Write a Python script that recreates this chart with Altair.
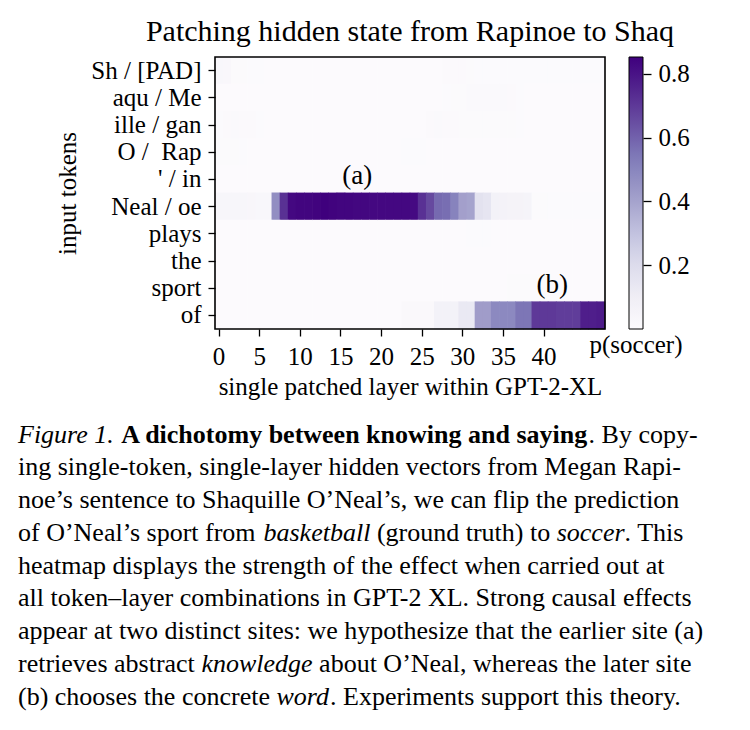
import altair as alt
import pandas as pd

FONT = "Liberation Serif"

# ---------------- data ----------------
tokens = ["Sh / [PAD]", "aqu / Me", "ille / gan", "O / \u00a0Rap", "' / in",
          "Neal / oe", "plays", "the", "sport", "of"]
layers = list(range(48))

p_sh = [0.030, 0.028, 0.010, 0.008, 0.005, 0.005, 0.004, 0.004, 0.004, 0.004,
        0.004, 0.004, 0.004, 0.004, 0.004, 0.004, 0.004, 0.004, 0.004, 0.004,
        0.004, 0.004, 0.004, 0.004, 0.004, 0.004, 0.004, 0.004, 0.012, 0.012,
        0.012, 0.010, 0.006, 0.005, 0.005, 0.005, 0.005, 0.005, 0.005, 0.005,
        0.005, 0.005, 0.005, 0.005, 0.005, 0.005, 0.005, 0.005]
p_aqu = [0.004, 0.004, 0.004, 0.004, 0.004, 0.004, 0.004, 0.004, 0.004, 0.004,
         0.004, 0.004, 0.004, 0.004, 0.004, 0.004, 0.004, 0.004, 0.004, 0.004,
         0.004, 0.004, 0.004, 0.004, 0.004, 0.004, 0.004, 0.004, 0.006, 0.008,
         0.010, 0.014, 0.014, 0.014, 0.014, 0.013, 0.012, 0.006, 0.004, 0.004,
         0.004, 0.004, 0.004, 0.004, 0.004, 0.004, 0.004, 0.004]
p_ille = [0.006, 0.012, 0.013, 0.012, 0.012, 0.006, 0.004, 0.004, 0.004, 0.004,
          0.004, 0.004, 0.004, 0.004, 0.004, 0.004, 0.004, 0.004, 0.004, 0.004,
          0.004, 0.004, 0.004, 0.004, 0.004, 0.004, 0.012, 0.013, 0.012, 0.012,
          0.008, 0.010, 0.011, 0.011, 0.010, 0.010, 0.009, 0.005, 0.004, 0.004,
          0.004, 0.004, 0.004, 0.004, 0.004, 0.004, 0.004, 0.004]
p_o = [0.008, 0.008, 0.007, 0.006, 0.004, 0.004, 0.004, 0.004, 0.004, 0.004,
       0.004, 0.004, 0.004, 0.004, 0.004, 0.004, 0.004, 0.004, 0.004, 0.004,
       0.004, 0.004, 0.004, 0.006, 0.006, 0.006, 0.004, 0.004, 0.004, 0.004,
       0.004, 0.004, 0.004, 0.004, 0.004, 0.004, 0.004, 0.004, 0.004, 0.004,
       0.004, 0.004, 0.004, 0.004, 0.004, 0.004, 0.004, 0.004]
p_apos = [0.004, 0.004, 0.004, 0.004, 0.004, 0.004, 0.004, 0.004, 0.004, 0.004,
          0.004, 0.004, 0.004, 0.004, 0.004, 0.004, 0.004, 0.004, 0.004, 0.004,
          0.004, 0.004, 0.004, 0.004, 0.004, 0.004, 0.004, 0.004, 0.004, 0.004,
          0.004, 0.004, 0.004, 0.004, 0.004, 0.004, 0.004, 0.004, 0.004, 0.004,
          0.004, 0.004, 0.004, 0.004, 0.004, 0.004, 0.004, 0.004]
p_neal = [0.040, 0.040, 0.040, 0.040, 0.035, 0.030, 0.030, 0.470, 0.720, 0.830,
          0.840, 0.840, 0.845, 0.853, 0.845, 0.840, 0.840, 0.835, 0.835, 0.830,
          0.830, 0.830, 0.830, 0.830, 0.825, 0.720, 0.660, 0.580, 0.570, 0.510,
          0.410, 0.400, 0.170, 0.150, 0.070, 0.065, 0.060, 0.060, 0.055, 0.010,
          0.008, 0.006, 0.005, 0.005, 0.005, 0.005, 0.005, 0.005]
p_plays = [0.004, 0.004, 0.004, 0.004, 0.004, 0.004, 0.004, 0.004, 0.004, 0.004,
           0.004, 0.004, 0.004, 0.004, 0.004, 0.004, 0.004, 0.004, 0.004, 0.004,
           0.004, 0.004, 0.004, 0.004, 0.004, 0.004, 0.004, 0.004, 0.004, 0.004,
           0.004, 0.006, 0.006, 0.006, 0.004, 0.004, 0.004, 0.004, 0.004, 0.004,
           0.004, 0.004, 0.004, 0.004, 0.004, 0.004, 0.004, 0.004]
p_the = [0.004, 0.004, 0.004, 0.004, 0.004, 0.004, 0.004, 0.004, 0.004, 0.004,
         0.004, 0.004, 0.004, 0.004, 0.004, 0.004, 0.004, 0.004, 0.004, 0.004,
         0.004, 0.004, 0.004, 0.004, 0.004, 0.004, 0.004, 0.004, 0.004, 0.004,
         0.004, 0.004, 0.004, 0.004, 0.004, 0.004, 0.004, 0.004, 0.004, 0.004,
         0.004, 0.004, 0.004, 0.004, 0.004, 0.004, 0.004, 0.004]
p_sport = [0.004, 0.004, 0.004, 0.004, 0.004, 0.004, 0.004, 0.004, 0.004, 0.004,
           0.004, 0.004, 0.004, 0.004, 0.004, 0.004, 0.004, 0.004, 0.004, 0.004,
           0.004, 0.004, 0.004, 0.004, 0.004, 0.004, 0.004, 0.004, 0.004, 0.004,
           0.004, 0.004, 0.004, 0.004, 0.004, 0.004, 0.008, 0.008, 0.008, 0.008,
           0.008, 0.004, 0.004, 0.004, 0.004, 0.004, 0.004, 0.004]
p_of = [0.004, 0.004, 0.004, 0.004, 0.004, 0.004, 0.004, 0.004, 0.004, 0.004,
        0.004, 0.004, 0.004, 0.004, 0.004, 0.004, 0.004, 0.004, 0.004, 0.004,
        0.004, 0.004, 0.004, 0.020, 0.020, 0.020, 0.020, 0.070, 0.070, 0.070,
        0.130, 0.130, 0.420, 0.420, 0.490, 0.490, 0.490, 0.550, 0.550, 0.700,
        0.700, 0.700, 0.690, 0.690, 0.690, 0.770, 0.770, 0.780]

rows = [p_sh, p_aqu, p_ille, p_o, p_apos, p_neal, p_plays, p_the, p_sport, p_of]

x_ticks = [0, 5, 10, 15, 20, 25, 30, 35, 40]
cbar_ticks = [0.2, 0.4, 0.6, 0.8]
p_max = 0.853

# matplotlib "Purples" colormap stops
purples = ["#fcfbfd", "#efedf5", "#dadaeb", "#bcbddc", "#9e9ac8",
           "#807dba", "#6a51a3", "#54278f", "#3f007d"]

site_labels = ["(a)", "(b)"]
site_layers = [17, 41]
site_tokens = ["' / in", "sport"]

title_text = "Patching hidden state from Rapinoe to Shaq"
x_title = "single patched layer within GPT-2-XL"
y_title = "input tokens"
cbar_title = "p(soccer)"

# caption: one list of (text, style) segments per line
caption = [
    [("Figure 1.", "italic"), ("A dichotomy between knowing and saying", "bold"), (". By copy-", "normal")],
    [("ing single-token, single-layer hidden vectors from Megan Rapi-", "normal")],
    [("noe\u2019s sentence to Shaquille O\u2019Neal\u2019s, we can flip the prediction", "normal")],
    [("of O\u2019Neal\u2019s sport from", "normal"), ("basketball", "italic"),
     ("(ground truth) to", "normal"), ("soccer", "italic"), (". This", "normal")],
    [("heatmap displays the strength of the effect when carried out at", "normal")],
    [("all token\u2013layer combinations in GPT-2 XL. Strong causal effects", "normal")],
    [("appear at two distinct sites: we hypothesize that the earlier site (a)", "normal")],
    [("retrieves abstract", "normal"), ("knowledge", "italic"),
     ("about O\u2019Neal, whereas the later site", "normal")],
    [("(b) chooses the concrete", "normal"), ("word", "italic"),
     (". Experiments support this theory.", "normal")],
]
# layout: x start (px, relative to plot origin) of each segment
caption_x = [
    [-197, -93.7, 373.6],
    [-197],
    [-197],
    [-197, 48.5, 161.9, 341.7, 409.6],
    [-197],
    [-197],
    [-197],
    [-197, -13.6, 104.1],
    [-197, 61.5, 115.0],
]

# ---------------- chart ----------------
W, H = 390, 272

df = pd.DataFrame([
    {"token": t, "layer": l, "p": v}
    for t, row in zip(tokens, rows) for l, v in zip(layers, row)
])
site_df = pd.DataFrame({"label": site_labels, "layer": site_layers, "token": site_tokens})

color_domain = [p_max * i / (len(purples) - 1) for i in range(len(purples))]

y_axis = alt.Axis(title=y_title, titleX=-140, titleY=H / 2, titleAngle=-90,
                  titleAlign="center", titleBaseline="alphabetic",
                  labelPadding=7, tickSize=7, labelLimit=300)
y_scale = alt.Scale(domain=tokens, paddingInner=0, paddingOuter=0)

heat = alt.Chart(df).mark_rect(
    width=alt.RelativeBandSize(1.08), height=alt.RelativeBandSize(1.03)
).encode(
    x=alt.X("layer:O", scale=alt.Scale(paddingInner=0, paddingOuter=0),
            axis=alt.Axis(values=x_ticks, labelAngle=0, title=x_title,
                          titleY=65, titleBaseline="alphabetic",
                          labelPadding=8, tickSize=7)),
    y=alt.Y("token:N", sort=tokens, scale=y_scale, axis=y_axis),
    color=alt.Color("p:Q",
                    scale=alt.Scale(domain=color_domain, range=purples, interpolate="rgb"),
                    legend=alt.Legend(orient="none", legendX=414, legendY=0,
                                      direction="vertical", gradientLength=H,
                                      gradientThickness=14, gradientStrokeColor="black",
                                      gradientStrokeWidth=1, title=None,
                                      labelOpacity=0, padding=0)),
)

sites = alt.Chart(site_df).mark_text(font=FONT, fontSize=27, baseline="alphabetic",
                                     dy=5, color="black").encode(
    x="layer:O",
    y=alt.Y("token:N", sort=tokens, scale=y_scale, axis=y_axis),
    text="label:N",
)

frame = alt.Chart(pd.DataFrame({"t": [0]})).mark_rect(
    fill=None, stroke="black", strokeWidth=1.6
).encode(x=alt.value(0), x2=alt.value(W), y=alt.value(0), y2=alt.value(H))

inner = alt.layer(heat, sites)

cbar_axis = alt.Chart(pd.DataFrame({"v": cbar_ticks})).mark_point(opacity=0).encode(
    x=alt.value(420),
    y=alt.Y("v:Q", scale=alt.Scale(domain=[0, p_max], nice=False, zero=False),
            axis=alt.Axis(orient="right", offset=38, values=cbar_ticks, format=".1f",
                          tickSize=8, domain=False, grid=False, labelPadding=7,
                          title=None)),
)

cbar_label = alt.Chart(pd.DataFrame({"t": [cbar_title]})).mark_text(
    font=FONT, fontSize=25, align="center", baseline="alphabetic", color="black"
).encode(text="t:N", x=alt.value(421), y=alt.value(296))

caption_layers = []
for i, (line, xs) in enumerate(zip(caption, caption_x)):
    y = 385.5 + i * 32.75
    for (txt, style), x in zip(line, xs):
        caption_layers.append(
            alt.Chart(pd.DataFrame({"t": [txt]})).mark_text(
                font=FONT, fontSize=26, align="left", baseline="alphabetic",
                color="black",
                fontStyle="italic" if style == "italic" else "normal",
                fontWeight="bold" if style == "bold" else "normal",
            ).encode(text="t:N", x=alt.value(x), y=alt.value(y))
        )

chart = alt.layer(inner, frame, cbar_axis, cbar_label, *caption_layers).resolve_scale(
    y="independent"
).properties(
    width=W, height=H,
    autosize=alt.AutoSizeParams(type="none"),
    padding={"left": 207, "top": 49, "right": 135, "bottom": 390},
    title=alt.TitleParams(title_text, font=FONT, fontSize=30, fontWeight="normal",
                          anchor="middle", offset=9, color="black"),
).configure_view(
    stroke=None
).configure_axis(
    labelFont=FONT, labelFontSize=25, labelColor="black",
    titleFont=FONT, titleFontSize=25, titleFontWeight="normal", titleColor="black",
    tickColor="black", tickWidth=1.3, domain=False, grid=False,
)

chart.save("out.html", embed_options={"renderer": "svg", "actions": False})
